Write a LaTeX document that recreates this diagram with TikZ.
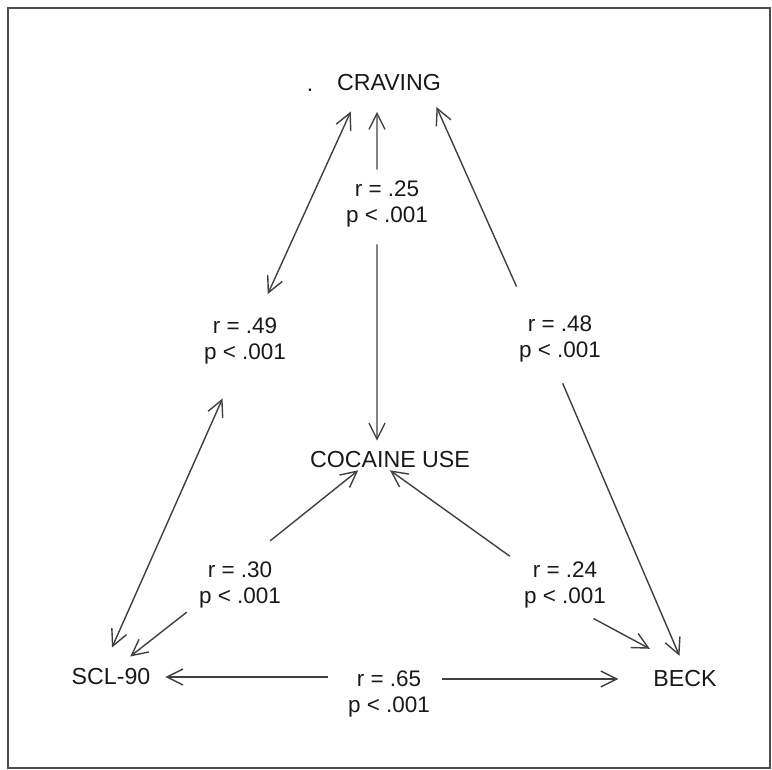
\documentclass[tikz,border=0pt]{standalone}
\usepackage{fontspec}
\setmainfont{Liberation Sans}
\usetikzlibrary{arrows.meta}

\begin{document}
\begin{tikzpicture}[
    x=0.02cm, y=-0.02cm,
    every node/.style={font=\fontsize{12.8}{15}\selectfont, text=black!90},
    var/.style={inner sep=1pt, font=\fontsize{13.2}{15}\selectfont},
    stat/.style={align=center, inner sep=1pt},
    link/.style={draw=black!75, line width=0.8pt,
                 -{Straight Barb[length=3.2mm, width=3.2mm]}},
    bilink/.style={link,
                   {Straight Barb[length=3.2mm, width=3.2mm]}-{Straight Barb[length=3.2mm, width=3.2mm]}}
  ]

  % --- Frame ---
  \useasboundingbox (0,0) rectangle (772,770);
  \draw[black!70, line width=1pt] (8,8) rectangle (770,768);

  % --- Variables ---
  \node[var] (mark) at (310,90) {.};
  \node[var] (craving) at (389,83) {CRAVING};
  \node[var] (cocaine) at (390,460) {COCAINE USE};
  \node[var] (scl) at (111,677) {SCL-90};
  \node[var] (beck) at (685,679) {BECK};

  % --- Correlations ---
  \node[stat] (r25) at (387,204) {r = .25\\p < .001};
  \node[stat] (r49) at (245,341) {r = .49\\p < .001};
  \node[stat] (r48) at (560,339) {r = .48\\p < .001};
  \node[stat] (r30) at (240,585) {r = .30\\p < .001};
  \node[stat] (r24) at (565,585) {r = .24\\p < .001};
  \node[stat] (r65) at (389,694) {r = .65\\p < .001};

  % --- Arrows ---
  % craving and SCL-90
  \draw[bilink, shorten <=0.4cm, shorten >=0.47cm] (craving.199) -- (r49.63);
  \draw[bilink, shorten <=0.7cm, shorten >=0.42cm] (r49.252) -- (scl.126);

  % craving and cocaine use
  \draw[link, shorten <=0.18cm, shorten >=0.37cm] ([xshift=-0.2cm]r25.north) -- ([xshift=-0.24cm]craving.south);
  \draw[link, shorten <=0.3cm, shorten >=0.18cm] ([xshift=-0.2cm]r25.south) -- ([xshift=-0.26cm]cocaine.north);

  % craving and BECK
  \draw[link, shorten <=0.59cm, shorten >=0.3cm] (r48.141) -- (craving.346);
  \draw[link, shorten <=0.41cm, shorten >=0.28cm] (r48.258) -- (beck.north);

  % cocaine use and SCL-90
  \draw[link, shorten <=0.6cm] (r30.75) -- (cocaine.198);
  \draw[link, shorten <=0.26cm, shorten >=0.33cm] (r30.204) -- (scl.59);

  % cocaine use and BECK
  \draw[link, shorten <=0.3cm] (r24.155) -- (cocaine.south);
  \draw[link, shorten <=0.34cm, shorten >=0.84cm] (r24.298) -- (beck.80);

  % SCL-90 and BECK
  \draw[link, shorten <=0.36cm, shorten >=0.26cm] (r65.west |- scl.east) -- (scl.east);
  \draw[link, shorten <=0.2cm, shorten >=0.66cm] (r65.east |- beck.west) -- (beck.west);

\end{tikzpicture}
\end{document}
